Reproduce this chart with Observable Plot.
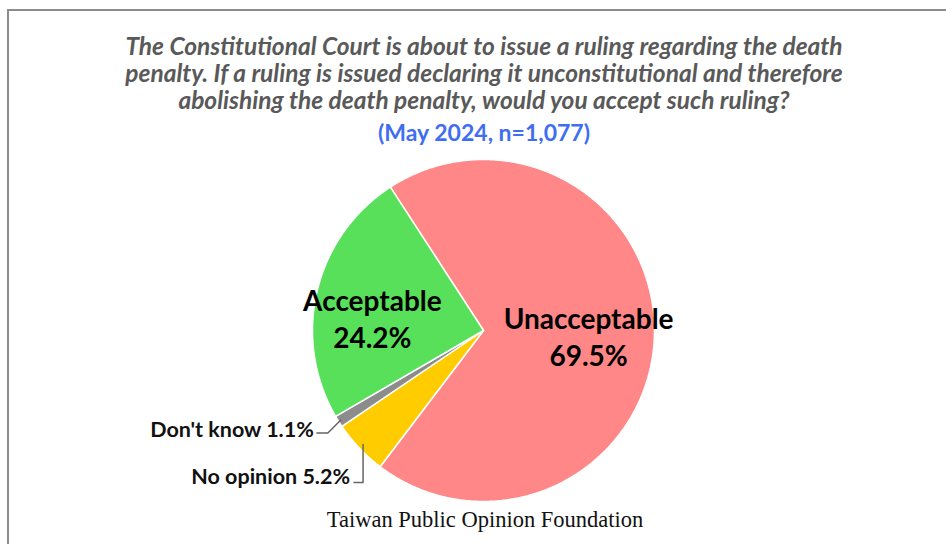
<!DOCTYPE html>
<html><head><meta charset="utf-8">
<script src="https://cdn.jsdelivr.net/npm/d3@7"></script>
<script src="https://cdn.jsdelivr.net/npm/@observablehq/plot@0.6"></script>
<style>
html,body{margin:0;padding:0;background:#fff;}
#wrap{position:relative;width:946px;height:544px;overflow:hidden;background:#fff;}
#frame{position:absolute;left:7px;top:9px;width:960px;height:560px;border-top:2px solid #8c8c8c;border-left:2px solid #8c8c8c;}
#chart{position:absolute;left:0;top:0;}
#title{position:absolute;left:0;top:32px;width:968px;text-align:center;font-family:Lato,sans-serif;font-style:italic;font-weight:bold;font-size:24.5px;line-height:27px;color:#595959;}
#subtitle{position:absolute;left:0;top:119px;width:968px;text-align:center;font-family:Lato,sans-serif;font-weight:bold;font-size:23px;line-height:27px;color:#3f6ef0;}
#footer{position:absolute;left:0;top:507px;width:970px;text-align:center;font-family:"Liberation Serif",serif;font-size:22.5px;color:#111;}
</style></head>
<body>
<div id="wrap">
  <div id="frame"></div>
  <div id="chart"></div>
  <div id="title">The Constitutional Court is about to issue a ruling regarding the death<br>penalty. If a ruling is issued declaring it unconstitutional and therefore<br>abolishing the death penalty, would you accept such ruling?</div>
  <div id="subtitle">(May 2024, n=1,077)</div>
  <div id="footer">Taiwan Public Opinion Foundation</div>
</div>
<script>
// ---- data ----
const categories = ["Unacceptable", "No opinion", "Don't know", "Acceptable"];
const values = [69.5, 5.2, 1.1, 24.2];
const sliceColors = ["#ff8787", "#ffcc00", "#8c8c8c", "#58e05a"];
const startAngle = -33; // degrees, clockwise from 12 o'clock

// ---- layout (pixels) ----
const W = 946, H = 544, R = 171, CX = 483, CY = 330;
const px = d => d / R; // pixels -> pie units

// ---- slices ----
const total = d3.sum(values);
let acc = startAngle;
const slices = categories.map((c, i) => {
  const a0 = acc, a1 = acc + values[i] / total * 360;
  acc = a1;
  return {c, v: values[i], a0, a1, mid: (a0 + a1) / 2};
});
const rad = a => a * Math.PI / 180;
const polar = (a, r) => ({x: r * Math.sin(rad(a)), y: r * Math.cos(rad(a))});

const pts = [];
for (const s of slices) {
  pts.push({c: s.c, x: 0, y: 0});
  const n = Math.max(2, Math.ceil((s.a1 - s.a0) / 0.5));
  for (let k = 0; k <= n; k++) {
    const p = polar(s.a0 + (s.a1 - s.a0) * k / n, 1);
    pts.push({c: s.c, x: p.x, y: p.y});
  }
}

// inside labels
const inside = {"Acceptable": {r: 0.65, dx: -3, dy: 13}, "Unacceptable": {r: 0.615, dx: 0, dy: 1}};
const insideLabels = slices.filter(s => inside[s.c]).map(s => {
  const o = inside[s.c], p = polar(s.mid, o.r);
  return {x: p.x + px(o.dx), y: p.y - px(o.dy), text: `${s.c}\n${s.v.toFixed(1)}%`};
});

// outside labels with leader lines
const leaders = [];
const outsideLabels = [];
{
  const s = slices.find(d => d.c === "Don't know");
  const p = polar(s.mid, 0.985);
  const pA = {x: p.x + px(-13), y: p.y - px(13)};
  const pB = {x: pA.x + px(-11), y: pA.y};
  [p, pA, pB].forEach(q => leaders.push({c: s.c, ...q}));
  outsideLabels.push({x: pB.x - px(3), y: pB.y + px(3), text: `${s.c} ${s.v.toFixed(1)}%`});
}
{
  const s = slices.find(d => d.c === "No opinion");
  const p = polar(s.mid, 0.97);
  const pA = {x: p.x, y: p.y - px(38)};
  const pB = {x: pA.x - px(9), y: pA.y};
  [p, pA, pB].forEach(q => leaders.push({c: s.c, ...q}));
  outsideLabels.push({x: pB.x - px(4), y: pB.y + px(5), text: `${s.c} ${s.v.toFixed(1)}%`});
}

const chart = Plot.plot({
  width: W, height: H, margin: 0,
  style: {background: "transparent", overflow: "visible"},
  x: {domain: [-CX / R, (W - CX) / R], axis: null},
  y: {domain: [-(H - CY) / R, CY / R], axis: null},
  color: {domain: categories, range: sliceColors},
  marks: [
    Plot.line(pts, {x: "x", y: "y", z: "c", fill: "c", stroke: "white", strokeWidth: 1.5, curve: "linear-closed"}),
    Plot.line(leaders, {x: "x", y: "y", z: "c", stroke: "#666", strokeWidth: 1.5}),
    Plot.text(insideLabels, {x: "x", y: "y", text: "text", fontSize: 28, fontWeight: "bold", fill: "black", lineHeight: 1.33, fontFamily: "Lato, sans-serif"}),
    Plot.text(outsideLabels, {x: "x", y: "y", text: "text", textAnchor: "end", fontSize: 21.5, fontWeight: "bold", fill: "#111", fontFamily: "Lato, sans-serif"})
  ]
});
document.getElementById("chart").appendChild(chart);
</script>
</body></html>
